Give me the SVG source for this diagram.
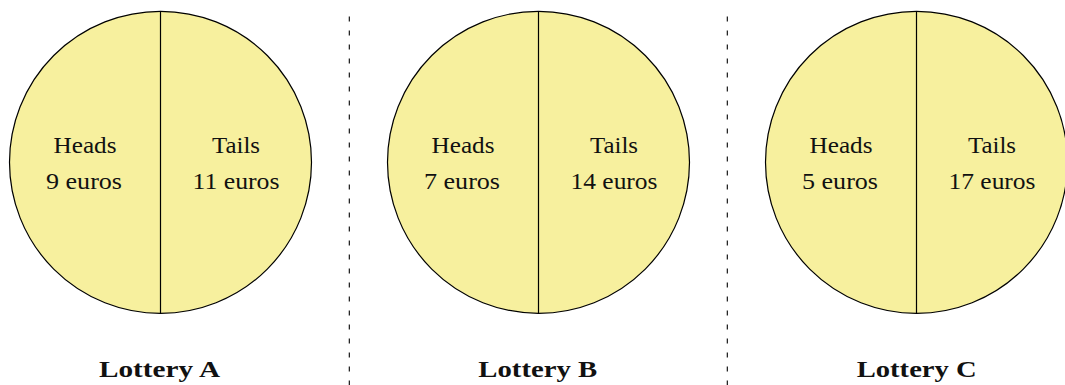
<svg xmlns="http://www.w3.org/2000/svg" width="1065" height="385" viewBox="0 0 1065 385">
<style>
.coin{fill:#f7f09e;stroke:#000;stroke-width:1.2}
.div{stroke:#000;stroke-width:1.2}
.sep{stroke:#000;stroke-width:1.1;stroke-dasharray:5,9}
.t{font-family:"Liberation Serif",serif;font-size:24px;text-anchor:middle;fill:#111}
.lbl{font-family:"Liberation Serif",serif;font-size:23px;font-weight:bold;text-anchor:middle;fill:#111}
</style>
<rect width="1065" height="385" fill="#fff"/>
<g id="lotteryA">
<circle class="coin" cx="160.5" cy="162.3" r="151"/>
<line class="div" x1="160.5" y1="11.3" x2="160.5" y2="313.3"/>
<text class="t" x="85" y="152.7" textLength="63" lengthAdjust="spacingAndGlyphs">Heads</text>
<text class="t" x="84" y="188.5" textLength="76" lengthAdjust="spacingAndGlyphs">9 euros</text>
<text class="t" x="236" y="152.7" textLength="48" lengthAdjust="spacingAndGlyphs">Tails</text>
<text class="t" x="236" y="188.5" textLength="87" lengthAdjust="spacingAndGlyphs">11 euros</text>
<text class="lbl" x="159.5" y="377" textLength="121" lengthAdjust="spacingAndGlyphs">Lottery A</text>
</g>
<g id="lotteryB">
<circle class="coin" cx="538.5" cy="162.3" r="151"/>
<line class="div" x1="538.5" y1="11.3" x2="538.5" y2="313.3"/>
<text class="t" x="463" y="152.7" textLength="63" lengthAdjust="spacingAndGlyphs">Heads</text>
<text class="t" x="462" y="188.5" textLength="76" lengthAdjust="spacingAndGlyphs">7 euros</text>
<text class="t" x="614" y="152.7" textLength="48" lengthAdjust="spacingAndGlyphs">Tails</text>
<text class="t" x="614" y="188.5" textLength="87" lengthAdjust="spacingAndGlyphs">14 euros</text>
<text class="lbl" x="537.8" y="377" textLength="119" lengthAdjust="spacingAndGlyphs">Lottery B</text>
</g>
<g id="lotteryC">
<circle class="coin" cx="916.5" cy="162.3" r="151"/>
<line class="div" x1="916.5" y1="11.3" x2="916.5" y2="313.3"/>
<text class="t" x="841" y="152.7" textLength="63" lengthAdjust="spacingAndGlyphs">Heads</text>
<text class="t" x="840" y="188.5" textLength="76" lengthAdjust="spacingAndGlyphs">5 euros</text>
<text class="t" x="992" y="152.7" textLength="48" lengthAdjust="spacingAndGlyphs">Tails</text>
<text class="t" x="992" y="188.5" textLength="87" lengthAdjust="spacingAndGlyphs">17 euros</text>
<text class="lbl" x="916.7" y="377" textLength="120" lengthAdjust="spacingAndGlyphs">Lottery C</text>
</g>
<g id="connectors">
<line class="sep" x1="349.3" y1="16.5" x2="349.3" y2="385"/>
<line class="sep" x1="727.3" y1="16.5" x2="727.3" y2="385"/>
</g>
</svg>
